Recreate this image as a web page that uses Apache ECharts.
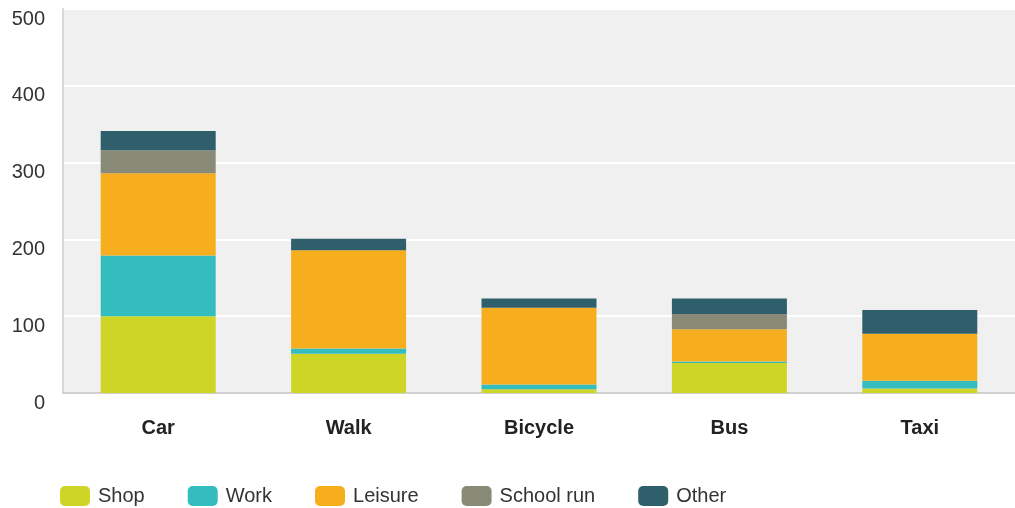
<!DOCTYPE html>
<html>
<head>
<meta charset="utf-8">
<script src="https://cdn.jsdelivr.net/npm/echarts@6/dist/echarts.min.js"></script>
<style>
  html, body { margin: 0; padding: 0; background: #fff; }
  #chart { width: 1015px; height: 508px; }
</style>
</head>
<body>
<div id="chart"></div>
<script>
// 数据
const categories = ["Car", "Walk", "Bicycle", "Bus", "Taxi"];
const shop = [100, 51, 5, 39, 6];
const work = [79, 7, 6, 2, 10];
const leisure = [107, 128, 100, 42, 61];
const schoolRun = [30, 0, 0, 20, 0];
const other = [25, 15, 12, 20, 31];
const yTicks = [0, 100, 200, 300, 400, 500];

const colors = ["#cfd527", "#33bdbf", "#f7ae1e", "#8a8a78", "#2e5f6b"];

const mChart = echarts.init(document.getElementById("chart"));

const makeSeries = (name, data) => ({
  name: name,
  type: "bar",
  stack: "total",
  data: data,
  barWidth: 115,
});

const options = {
  color: colors,
  textStyle: { fontFamily: "Liberation Sans, Arial, sans-serif" },
  grid: {
    left: 63,
    right: 0,
    top: 9,
    bottom: 115,
    show: true,
    backgroundColor: "#f0f0f0",
    borderWidth: 0,
  },
  legend: {
    left: 60,
    top: 486,
    padding: 0,
    itemWidth: 30,
    itemHeight: 20,
    itemGap: 43,
    icon: "roundRect",
    textStyle: { fontSize: 20, color: "#333", padding: [0, 0, 0, 3] },
    data: ["Shop", "Work", "Leisure", "School run", "Other"],
  },
  xAxis: {
    type: "category",
    data: categories,
    axisLine: { lineStyle: { color: "#d0d0d0", width: 2 } },
    axisTick: { show: false },
    axisLabel: {
      margin: 25,
      fontSize: 20,
      fontWeight: "bold",
      color: "#222",
    },
  },
  yAxis: {
    type: "value",
    min: yTicks[0],
    max: yTicks[yTicks.length - 1],
    interval: 100,
    axisLine: { show: true, lineStyle: { color: "#d8d8d8", width: 2 } },
    axisTick: { show: false },
    splitLine: { lineStyle: { color: "#ffffff", width: 2 } },
    axisLabel: {
      margin: 18,
      fontSize: 20,
      color: "#333",
      verticalAlign: "top",
    },
  },
  series: [
    makeSeries("Shop", shop),
    makeSeries("Work", work),
    makeSeries("Leisure", leisure),
    makeSeries("School run", schoolRun),
    makeSeries("Other", other),
  ],
};

mChart.setOption(options);
</script>
</body>
</html>
